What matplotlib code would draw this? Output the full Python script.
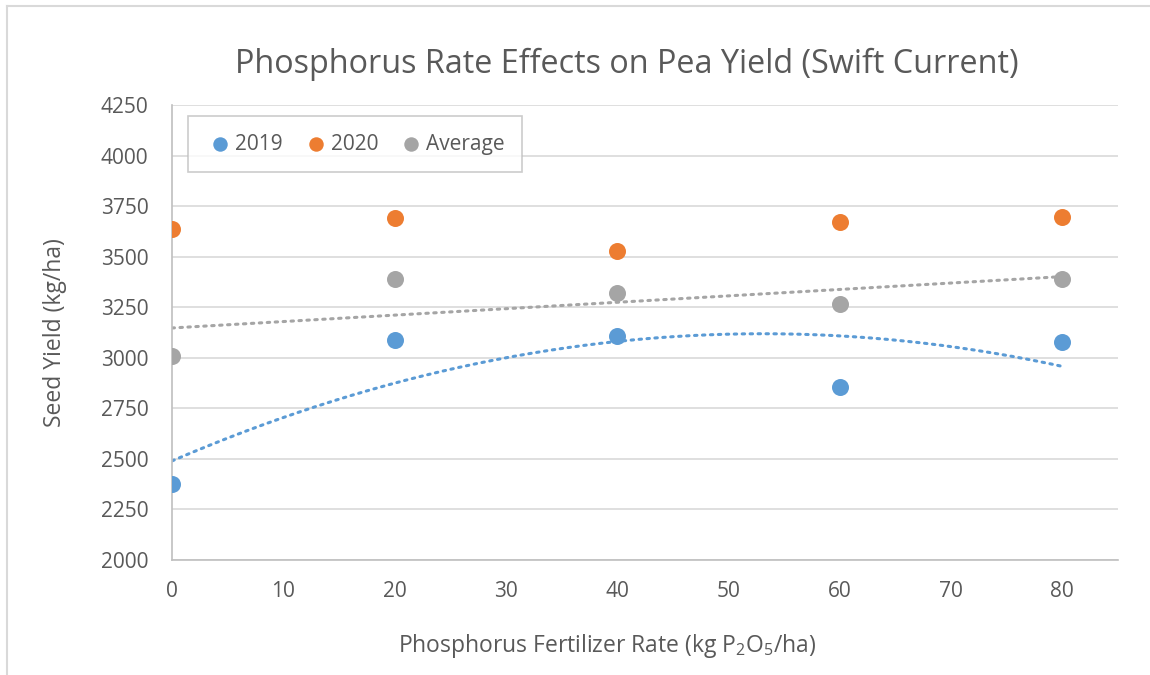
import numpy as np
import matplotlib
matplotlib.use("Agg")
import matplotlib.pyplot as plt
from matplotlib.lines import Line2D

plt.rcParams['font.family'] = ['Open Sans', 'DejaVu Sans']

rates = [0, 20, 40, 60, 80]
y2019 = [2378, 3089, 3109, 2856, 3079]
y2020 = [3638, 3693, 3530, 3673, 3698]
yavg = [3008, 3391, 3320, 3264, 3389]
yticks = [2000, 2250, 2500, 2750, 3000, 3250, 3500, 3750, 4000, 4250]
xticks = [0, 10, 20, 30, 40, 50, 60, 70, 80]

c19 = '#5B9BD5'
c20 = '#ED7D31'
cav = '#A5A5A5'
tc = '#595959'

fig = plt.figure(figsize=(11.5, 6.75), dpi=100)
ax = fig.add_axes([0.1496, 0.1704, 0.8224, 0.674])

# trendlines
xs = np.linspace(0, 80, 200)
p19 = np.polyfit(rates, y2019, 2)
pav = np.polyfit(rates, yavg, 1)
ax.plot(xs, np.polyval(p19, xs), color=c19, lw=2.2, ls=(0, (0.8, 1.8)),
        dash_capstyle='round', zorder=2)
ax.plot(xs, np.polyval(pav, xs), color=cav, lw=2.2, ls=(0, (0.8, 1.8)),
        dash_capstyle='round', zorder=2)

ax.scatter(rates, y2019, s=150, color=c19, label='2019', zorder=3, linewidths=0)
ax.scatter(rates, y2020, s=150, color=c20, label='2020', zorder=3, linewidths=0)
ax.scatter(rates, yavg, s=150, color=cav, label='Average', zorder=3, linewidths=0)

ax.set_xlim(0, 85)
ax.set_ylim(2000, 4250)
ax.set_xticks(xticks)
ax.set_yticks(yticks)
ax.grid(axis='y', color='#D9D9D9', lw=1.2)
ax.set_axisbelow(True)
for s in ['top', 'right']:
    ax.spines[s].set_visible(False)
for s in ['left', 'bottom']:
    ax.spines[s].set_color('#BFBFBF')
    ax.spines[s].set_linewidth(1.2)
ax.tick_params(length=0, labelsize=15, colors=tc)
ax.tick_params(axis='x', pad=15)
ax.tick_params(axis='y', pad=17)

ax.set_title('Phosphorus Rate Effects on Pea Yield (Swift Current)',
             fontsize=23.3, color=tc, pad=23, x=0.481)
ax.set_ylabel('Seed Yield (kg/ha)', fontsize=16.5, color=tc, labelpad=24)
ax.set_xlabel('Phosphorus Fertilizer Rate (kg P$_\\mathregular{2}$O$_\\mathregular{5}$/ha)',
              fontsize=16.5, color=tc, labelpad=22, x=0.46)

leg = ax.legend(loc='upper left', bbox_to_anchor=(0.017, 0.976), ncol=3,
                fontsize=15, frameon=True, fancybox=False, edgecolor='#BFBFBF',
                handletextpad=0.0, handlelength=1.4, columnspacing=0.9,
                borderpad=0.85, markerscale=0.85, borderaxespad=0)
leg.get_frame().set_linewidth(1.2)
for t in leg.get_texts():
    t.set_color(tc)

fig.add_artist(Line2D([0.0065, 0.0065], [0, 0.991], transform=fig.transFigure,
                      color='#D9D9D9', lw=1.5))
fig.add_artist(Line2D([0.0065, 1.0], [0.991, 0.991], transform=fig.transFigure,
                      color='#D9D9D9', lw=1.5))

fig.savefig('out.png', dpi=100, facecolor='white')
